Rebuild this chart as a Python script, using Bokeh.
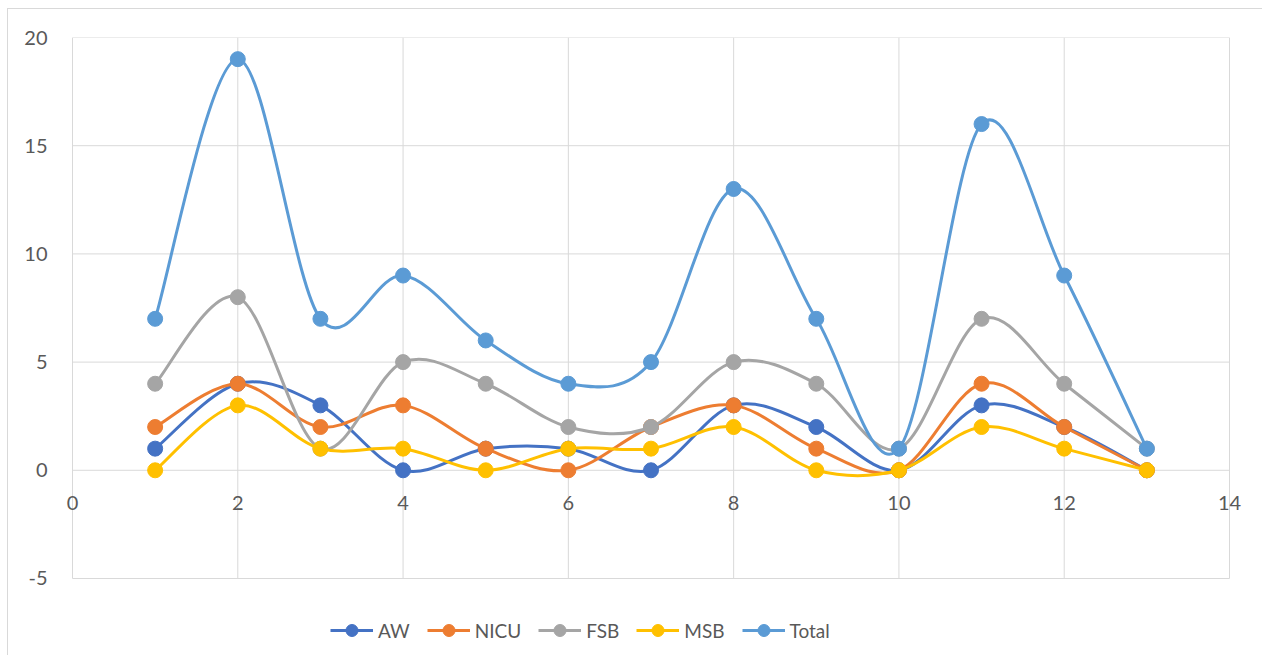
import numpy as np
from bokeh.plotting import figure
from bokeh.models import (Range1d, FixedTicker, Legend, LegendItem, ColumnDataSource)
from bokeh.embed import file_html
from bokeh.resources import INLINE

# ---- data ----
x_vals = [1, 2, 3, 4, 5, 6, 7, 8, 9, 10, 11, 12, 13]
aw = [1, 4, 3, 0, 1, 1, 0, 3, 2, 0, 3, 2, 0]
nicu = [2, 4, 2, 3, 1, 0, 2, 3, 1, 0, 4, 2, 0]
fsb = [4, 8, 1, 5, 4, 2, 2, 5, 4, 1, 7, 4, 1]
msb = [0, 3, 1, 1, 0, 1, 1, 2, 0, 0, 2, 1, 0]
total = [7, 19, 7, 9, 6, 4, 5, 13, 7, 1, 16, 9, 1]
series_names = ["AW", "NICU", "FSB", "MSB", "Total"]
series_values = [aw, nicu, fsb, msb, total]
series_colors = ["#4472C4", "#ED7D31", "#A5A5A5", "#FFC000", "#5B9BD5"]
x_ticks = [0, 2, 4, 6, 8, 10, 12, 14]
y_ticks = [-5, 0, 5, 10, 15, 20]
y_tick_labels = {-5: "-5", 0: "0", 5: "5", 10: "10", 15: "15", 20: "20"}

TEXT = "#595959"
GRID = "#D9D9D9"
FONT = "Lato"

p = figure(width=1255, height=647, output_backend="svg", toolbar_location=None,
           x_range=Range1d(-0.2057, 14.1936), y_range=Range1d(-8.42, 20),
           min_border_left=47, min_border_right=18, min_border_top=28,
           min_border_bottom=4)
p.margin = (8, 0, 0, 7)
p.styles = {"border-left": "1px solid #D9D9D9", "border-top": "1px solid #D9D9D9"}
p.outline_line_color = None
p.background_fill_color = "white"
p.border_fill_color = "white"
p.xgrid.visible = False
p.ygrid.visible = False

p.xaxis.ticker = FixedTicker(ticks=x_ticks)
p.yaxis.ticker = FixedTicker(ticks=y_ticks)
p.yaxis.major_label_overrides = y_tick_labels

p.xaxis.fixed_location = 0
for ax in (p.xaxis, p.yaxis):
    ax.axis_line_color = None
    ax.major_tick_line_color = None
    ax.minor_tick_line_color = None
    ax.major_label_text_color = TEXT
    ax.major_label_text_font = FONT
    ax.major_label_text_font_size = "20px"
p.xaxis.major_label_standoff = 20
p.yaxis.major_label_standoff = 2

# gridlines limited to the axis extent (0..14, -5..20)
xmin, xmax = min(x_ticks), max(x_ticks)
ymin, ymax = min(y_ticks), max(y_ticks)
p.segment(x0=x_ticks, y0=[ymin] * len(x_ticks), x1=x_ticks, y1=[ymax] * len(x_ticks),
          line_color=GRID, line_width=1)
p.segment(x0=[xmin] * len(y_ticks), y0=y_ticks, x1=[xmax] * len(y_ticks), y1=y_ticks,
          line_color=GRID, line_width=1)


def smooth_controls(xs, ys):
    xs = np.asarray(xs, dtype=float)
    ys = np.asarray(ys, dtype=float)
    n = len(xs)
    xp = np.concatenate([[xs[0]], xs, [xs[-1]]])
    yp = np.concatenate([[ys[0]], ys, [ys[-1]]])
    x0 = xs[:-1]; y0 = ys[:-1]; x1 = xs[1:]; y1 = ys[1:]
    cx0 = x0 + (xp[2:n + 1] - xp[0:n - 1]) / 6.0
    cy0 = y0 + (yp[2:n + 1] - yp[0:n - 1]) / 6.0
    cx1 = x1 - (xp[3:n + 2] - xp[1:n]) / 6.0
    cy1 = y1 - (yp[3:n + 2] - yp[1:n]) / 6.0
    return dict(x0=x0, y0=y0, x1=x1, y1=y1, cx0=cx0, cy0=cy0, cx1=cx1, cy1=cy1)


items = []
for name, vals, col in zip(series_names, series_values, series_colors):
    src = ColumnDataSource(smooth_controls(x_vals, vals))
    p.bezier(x0="x0", y0="y0", x1="x1", y1="y1", cx0="cx0", cy0="cy0",
             cx1="cx1", cy1="cy1", source=src, line_color=col, line_width=3)
    sc = p.scatter(x_vals, vals, size=15, fill_color=col, line_color=col,
                   line_width=1)
    leg_line = p.line([np.nan, np.nan], [np.nan, np.nan], line_color=col, line_width=3)
    items.append(LegendItem(label=name, renderers=[leg_line, sc]))

legend = Legend(items=items, orientation="horizontal", location=(275, 7),
                glyph_width=43, glyph_height=30, label_standoff=5, spacing=17,
                padding=0, margin=0, border_line_color=None,
                background_fill_alpha=0,
                label_text_font=FONT, label_text_font_size="19px",
                label_text_color=TEXT)
p.add_layout(legend, "center")

open("out.html", "w").write(file_html(p, INLINE))
